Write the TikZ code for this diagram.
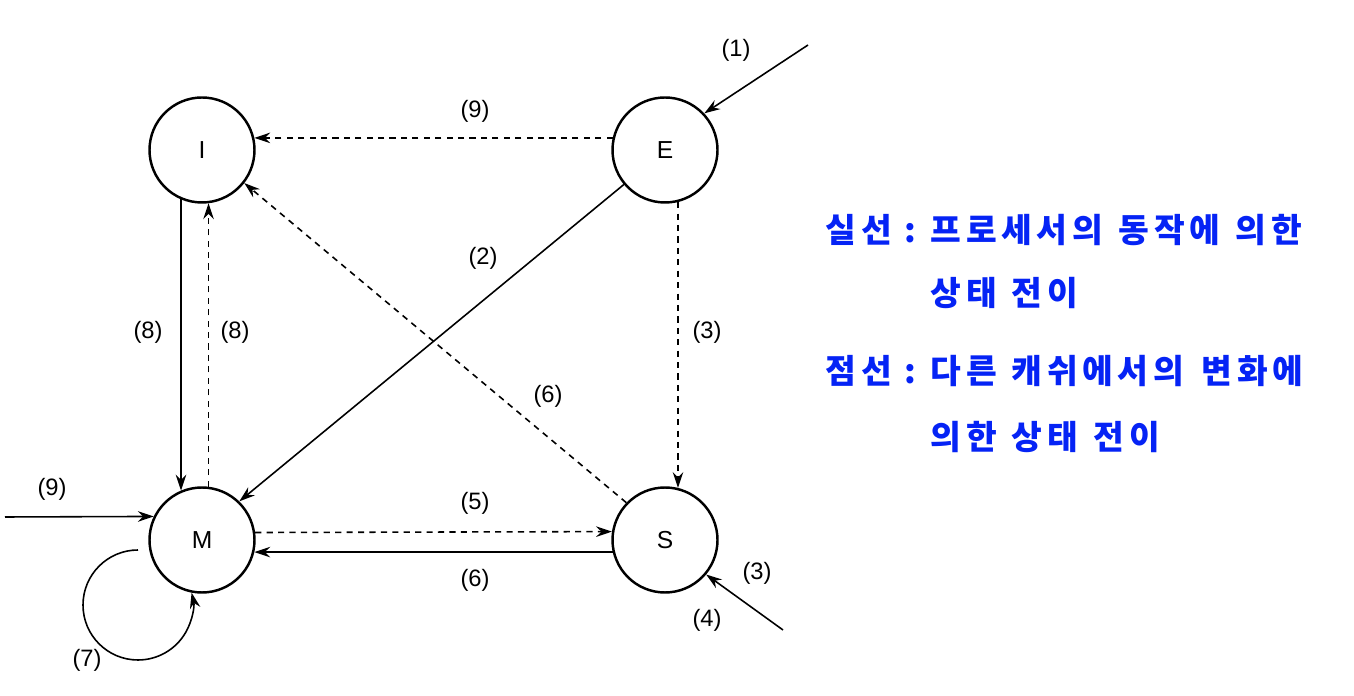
\documentclass[tikz,border=0pt]{standalone}
\usepackage{fontspec}
\setmainfont{Liberation Sans}
\newfontfamily\kor{Noto Sans CJK KR}[LetterSpace=14]
\usetikzlibrary{arrows.meta,automata,positioning}
\definecolor{noteblue}{RGB}{5,35,245}

\begin{document}
\begin{tikzpicture}[->,>={Stealth[length=9pt,width=6pt,inset=3pt]},line width=0.9pt,node distance=7.8cm,on grid]
        \tikzstyle{every state}=[draw,line width=1.4pt,minimum size=2.1cm,inner sep=0pt,font=\fontsize{14}{16}\selectfont]
        \tikzstyle{snoop}=[dash pattern=on 3.5pt off 3pt]
        \tikzstyle{num}=[font=\fontsize{13.5}{15}\selectfont]
        \tikzstyle{note}=[anchor=base west,inner sep=0pt,text=noteblue,font=\kor\bfseries\fontsize{19}{23}\selectfont]
        \useasboundingbox (0,0) rectangle (27.08,13.92);

        \node[state] (I) at (4.04,10.92)   {I};
        \node[state] (E) [right=9.26cm of I] {E};
        \node[state] (M) [below=of I]      {M};
        \node[state] (S) [below=of E]      {S};

        \coordinate (inE)  at (16.16,13.02);
        \coordinate (inM)  at (0.1,3.58);
        \coordinate (inS)  at (15.66,1.32);
        \coordinate (loop) at (2.76,2.92);

    \path   (inE)     edge              (E.43.5)
            (E.167)   edge [snoop]      (I.13)
            (E.220)   edge              (M.46)
            (E.-76)   edge [snoop]      (S.76)
            (S.136.5) edge [snoop]      (I.-38)
            (I.-113)  edge              (M.113)
            (M.83.5)  edge [snoop]      (I.-83.5)
            (inM)     edge              (M.154.3)
            (M.8.7)   edge [snoop]      (S.171.3)
            (S.-167)  edge              (M.-13)
            (inS)     edge              (S.-40.7);
    \draw   (loop) arc[start angle=90,end angle=373,radius=1.1cm];

        % transition numbers
        \node[num] (n1)  at (14.72,12.92) {(1)};
        \node[num] (n9a) at (9.50,11.70)  {(9)};
        \node[num] (n2)  at (9.66,8.76)   {(2)};
        \node[num] (n3a) at (14.14,7.28)  {(3)};
        \node[num] (n6a) at (10.96,6.00)  {(6)};
        \node[num] (n8a) at (2.96,7.28)   {(8)};
        \node[num] (n8b) at (4.70,7.28)   {(8)};
        \node[num] (n9b) at (1.04,4.14)   {(9)};
        \node[num] (n5)  at (9.50,3.86)   {(5)};
        \node[num] (n6b) at (9.50,2.32)   {(6)};
        \node[num] (n7)  at (1.74,0.72)   {(7)};
        \node[num] (n3b) at (15.14,2.46)  {(3)};
        \node[num] (n4)  at (14.14,1.52)  {(4)};

        % legend: solid lines
        \node[note] (solidKey) at (16.50,9.06) {실선};
        \node[note,anchor=base] (solidColon) at (18.20,9.06) {:};
        \node[note] (solidA)   at (18.60,9.06) {프로세서의};
        \node[note] (solidB)   at (22.36,9.06) {동작에};
        \node[note] (solidC)   at (24.70,9.06) {의한};
        \node[note] (solidD)   at (18.60,7.80) {상태};
        \node[note] (solidE)   at (20.22,7.80) {전이};
        % legend: dashed lines
        \node[note] (dashKey)  at (16.50,6.24) {점선};
        \node[note,anchor=base] (dashColon) at (18.20,6.24) {:};
        \node[note] (dashA)    at (18.60,6.24) {다른};
        \node[note] (dashB)    at (20.22,6.24) {캐쉬에서의};
        \node[note] (dashC)    at (24.02,6.24) {변화에};
        \node[note] (dashD)    at (18.60,4.92) {의한};
        \node[note] (dashE)    at (20.22,4.92) {상태};
        \node[note] (dashF)    at (21.86,4.92) {전이};
    \end{tikzpicture}
\end{document}
